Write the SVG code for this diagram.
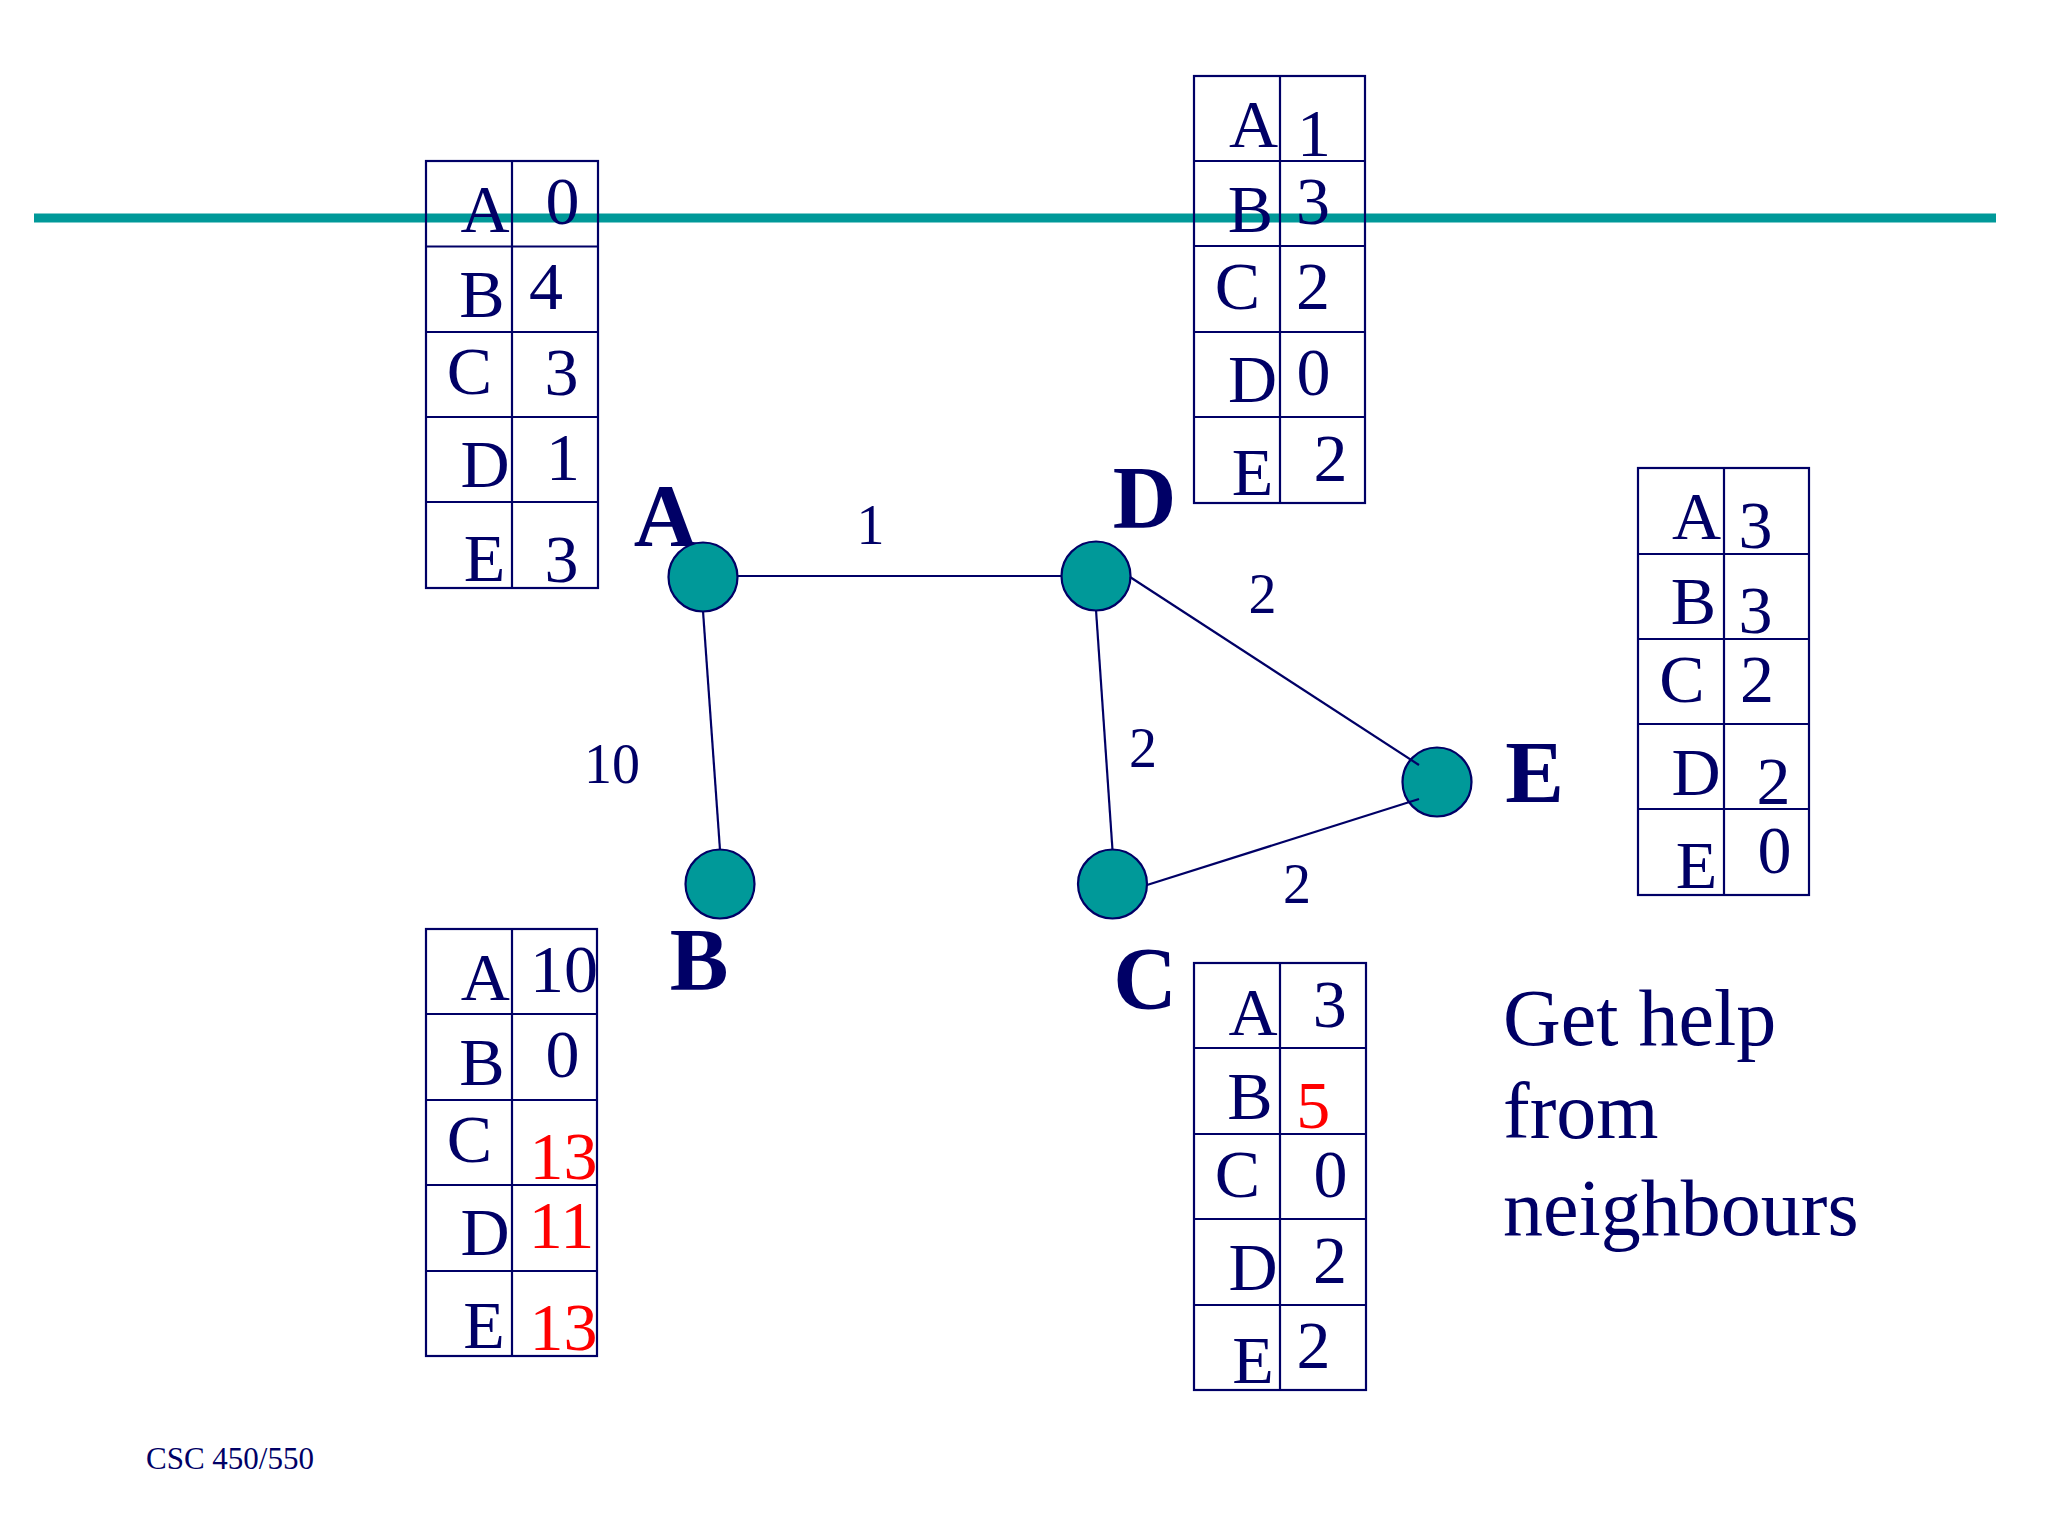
<svg xmlns="http://www.w3.org/2000/svg" width="2048" height="1536" viewBox="0 0 2048 1536">
<style>
.tb{fill:none;stroke:#000066;stroke-width:2.2}
.t{font-family:"Liberation Serif","Times New Roman",serif;font-size:68px;fill:#000066;text-anchor:middle}
.r{fill:#ff0000}
.nl{font-family:"Liberation Serif","Times New Roman",serif;font-size:88px;font-weight:bold;fill:#000066;text-anchor:middle}
.el{font-family:"Liberation Serif","Times New Roman",serif;font-size:56px;fill:#000066;text-anchor:middle}
.node{fill:#009999;stroke:#000066;stroke-width:2.2}
.edge{stroke:#000066;stroke-width:2.2;fill:none}
.big{font-family:"Liberation Serif","Times New Roman",serif;font-size:80px;fill:#000066}
</style>
<rect width="2048" height="1536" fill="#ffffff"/>
<line id="divider" x1="34" y1="218" x2="1996" y2="218" stroke="#009999" stroke-width="9"/>

<g id="table-A">
<rect class="tb" x="426" y="161" width="172" height="427"/>
<path class="tb" d="M512 161V588M426 246.5H598M426 332H598M426 417H598M426 502H598"/>
<text class="t" x="485" y="232">A</text><text class="t" x="562.5" y="224">0</text>
<text class="t" x="482" y="317">B</text><text class="t" x="546" y="309">4</text>
<text class="t" x="469.5" y="394">C</text><text class="t" x="561.5" y="395">3</text>
<text class="t" x="485" y="487">D</text><text class="t" x="563" y="480">1</text>
<text class="t" x="484.5" y="581">E</text><text class="t" x="561.5" y="582">3</text>
</g>

<g id="table-D">
<rect class="tb" x="1194" y="76" width="171" height="427"/>
<path class="tb" d="M1280 76V503M1194 161H1365M1194 246H1365M1194 332H1365M1194 417H1365"/>
<text class="t" x="1253.5" y="147">A</text><text class="t" x="1314" y="156">1</text>
<text class="t" x="1250.5" y="232">B</text><text class="t" x="1313" y="224">3</text>
<text class="t" x="1237.5" y="309">C</text><text class="t" x="1313" y="309">2</text>
<text class="t" x="1252.5" y="402">D</text><text class="t" x="1313.5" y="395">0</text>
<text class="t" x="1252.5" y="495">E</text><text class="t" x="1330.5" y="481">2</text>
</g>

<g id="table-E">
<rect class="tb" x="1638" y="468" width="171" height="427"/>
<path class="tb" d="M1724 468V895M1638 554H1809M1638 639H1809M1638 724H1809M1638 809H1809"/>
<text class="t" x="1696.5" y="539">A</text><text class="t" x="1755.5" y="548">3</text>
<text class="t" x="1693.5" y="624">B</text><text class="t" x="1755.5" y="633">3</text>
<text class="t" x="1682" y="702">C</text><text class="t" x="1757" y="702">2</text>
<text class="t" x="1696" y="795">D</text><text class="t" x="1773.5" y="804">2</text>
<text class="t" x="1696.5" y="888">E</text><text class="t" x="1774.5" y="873">0</text>
</g>

<g id="table-B">
<rect class="tb" x="426" y="929" width="171" height="427"/>
<path class="tb" d="M512 929V1356M426 1014H597M426 1100H597M426 1185H597M426 1271H597"/>
<text class="t" x="485.3" y="1000">A</text><text class="t" x="564" y="992">10</text>
<text class="t" x="482" y="1085">B</text><text class="t" x="562.5" y="1077">0</text>
<text class="t" x="469.5" y="1162">C</text><text class="t r" x="563.5" y="1179">13</text>
<text class="t" x="485" y="1255">D</text><text class="t r" x="561.5" y="1248">11</text>
<text class="t" x="484" y="1348">E</text><text class="t r" x="563.5" y="1350">13</text>
</g>

<g id="table-C">
<rect class="tb" x="1194" y="963" width="172" height="427"/>
<path class="tb" d="M1280 963V1390M1194 1048H1366M1194 1134H1366M1194 1219H1366M1194 1305H1366"/>
<text class="t" x="1253" y="1035">A</text><text class="t" x="1329.7" y="1027">3</text>
<text class="t" x="1250" y="1119">B</text><text class="t r" x="1313.3" y="1128">5</text>
<text class="t" x="1237.5" y="1197">C</text><text class="t" x="1330.5" y="1197">0</text>
<text class="t" x="1253" y="1290">D</text><text class="t" x="1330" y="1283">2</text>
<text class="t" x="1253" y="1383">E</text><text class="t" x="1313.5" y="1368">2</text>
</g>

<g id="node-A"><text class="nl" x="665.5" y="545">A</text><circle class="node" cx="703" cy="577" r="34.5"/></g>
<g id="node-D"><text class="nl" x="1144.5" y="527">D</text><circle class="node" cx="1096" cy="576" r="34.5"/></g>
<g id="node-B"><circle class="node" cx="720" cy="884" r="34.5"/><text class="nl" x="699" y="989">B</text></g>
<g id="node-C"><circle class="node" cx="1112.5" cy="884" r="34.5"/><text class="nl" x="1145" y="1008">C</text></g>
<g id="node-E"><circle class="node" cx="1437" cy="782" r="34.5"/><text class="nl" x="1534.5" y="802">E</text></g>

<g id="connectors">
<line class="edge" x1="738" y1="576" x2="1062" y2="576"/>
<line class="edge" x1="703" y1="611" x2="720" y2="850"/>
<line class="edge" x1="1096" y1="610" x2="1112.5" y2="850"/>
<line class="edge" x1="1130" y1="577" x2="1419" y2="765"/>
<line class="edge" x1="1147" y1="885" x2="1419" y2="799"/>
<text class="el" x="870.5" y="544">1</text>
<text class="el" x="612" y="783">10</text>
<text class="el" x="1262.5" y="613">2</text>
<text class="el" x="1143" y="767">2</text>
<text class="el" x="1297" y="903">2</text>
</g>

<g id="caption">
<text class="big" x="1503" y="1045">Get help</text>
<text class="big" x="1503" y="1138">from</text>
<text class="big" x="1503" y="1235">neighbours</text>
</g>
<text id="footer" x="146" y="1469" font-family="'Liberation Serif','Times New Roman',serif" font-size="31" fill="#000066">CSC 450/550</text>
</svg>
